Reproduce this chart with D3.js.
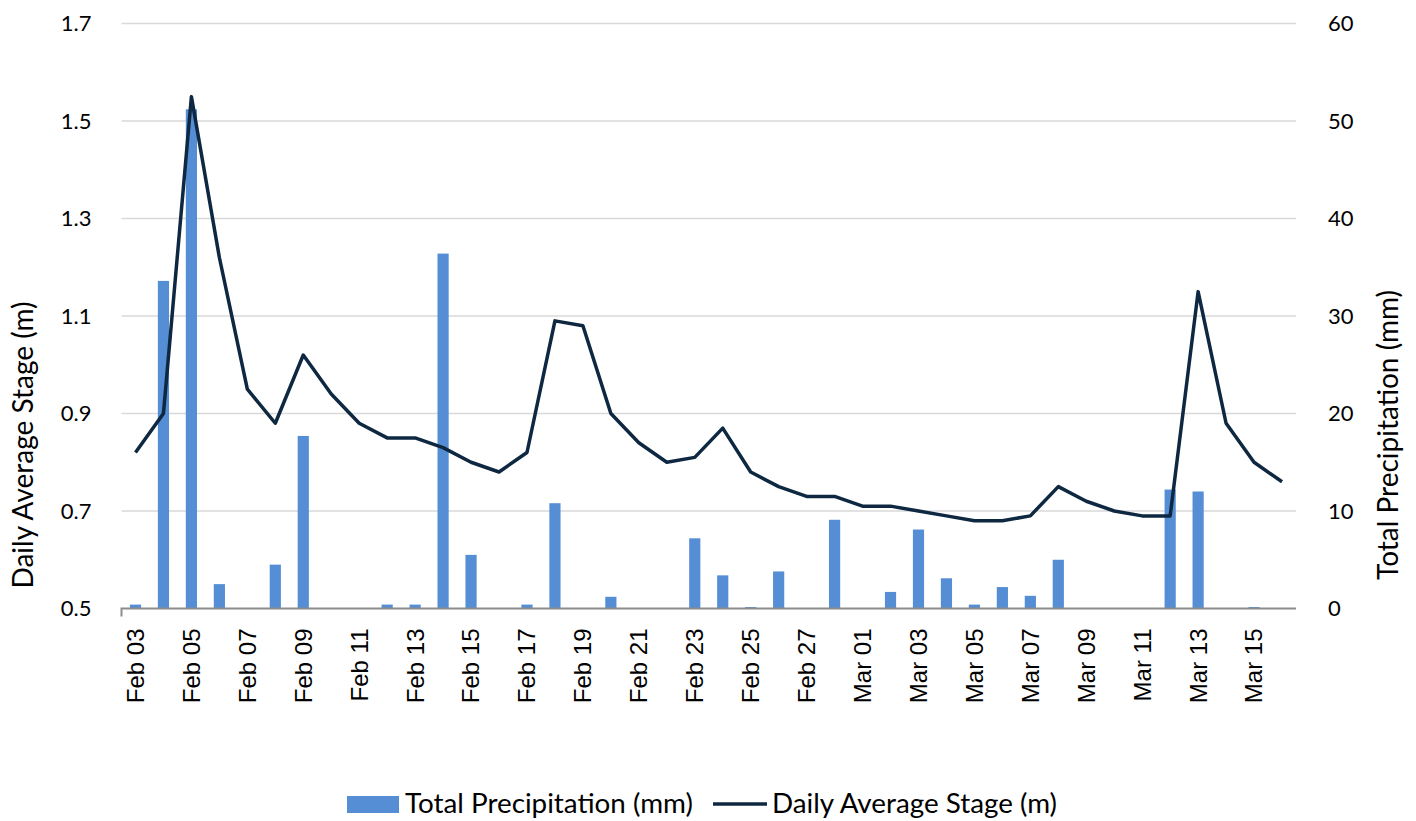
<!DOCTYPE html>
<html>
<head>
<meta charset="utf-8">
<script src="https://cdn.jsdelivr.net/npm/d3@7"></script>
<style>
  html, body { margin: 0; padding: 0; background: #fff; }
  svg { display: block; }
</style>
</head>
<body>
<svg id="chart" width="1416" height="821"></svg>
<script>
// Daily categories, Feb 03 – Mar 16
const days = [
  "Feb 03","Feb 04","Feb 05","Feb 06","Feb 07","Feb 08","Feb 09","Feb 10","Feb 11","Feb 12",
  "Feb 13","Feb 14","Feb 15","Feb 16","Feb 17","Feb 18","Feb 19","Feb 20","Feb 21","Feb 22",
  "Feb 23","Feb 24","Feb 25","Feb 26","Feb 27","Feb 28","Mar 01","Mar 02","Mar 03","Mar 04",
  "Mar 05","Mar 06","Mar 07","Mar 08","Mar 09","Mar 10","Mar 11","Mar 12","Mar 13","Mar 14",
  "Mar 15","Mar 16"
];

// Total precipitation (mm), right axis
const precipitation = [
  0.4, 33.6, 51.2, 2.5, 0, 4.5, 17.7, 0, 0, 0.4,
  0.4, 36.4, 5.5, 0, 0.4, 10.8, 0, 1.2, 0, 0,
  7.2, 3.4, 0.15, 3.8, 0, 9.1, 0, 1.7, 8.1, 3.1,
  0.4, 2.2, 1.3, 5.0, 0, 0, 0, 12.2, 12.0, 0,
  0.15, 0
];

// Daily average stage (m), left axis
const stage = [
  0.82, 0.90, 1.55, 1.22, 0.95, 0.88, 1.02, 0.94, 0.88, 0.85,
  0.85, 0.83, 0.80, 0.78, 0.82, 1.09, 1.08, 0.90, 0.84, 0.80,
  0.81, 0.87, 0.78, 0.75, 0.73, 0.73, 0.71, 0.71, 0.70, 0.69,
  0.68, 0.68, 0.69, 0.75, 0.72, 0.70, 0.69, 0.69, 1.15, 0.88,
  0.80, 0.76
];

const stageTicks = [0.5, 0.7, 0.9, 1.1, 1.3, 1.5, 1.7];
const precipTicks = [0, 10, 20, 30, 40, 50, 60];
const dayLabels = ["Feb 03","Feb 05","Feb 07","Feb 09","Feb 11","Feb 13","Feb 15","Feb 17","Feb 19",
  "Feb 21","Feb 23","Feb 25","Feb 27","Mar 01","Mar 03","Mar 05","Mar 07","Mar 09","Mar 11","Mar 13","Mar 15"];

const seriesNames = ["Total Precipitation (mm)", "Daily Average Stage (m)"];
const axisTitles = ["Daily Average Stage (m)", "Total Precipitation (mm)"];

const BAR = "#558ed5", LINE = "#0e2841", GRID = "#d9d9d9", AXIS = "#8c8c8c";
const UI_FONT = "Lato, 'Open Sans', sans-serif";
const DATE_FONT = "'Liberation Sans', Arial, sans-serif";

const plot = { left: 121.5, right: 1296, top: 23.5, bottom: 608.5 };
const svg = d3.select("#chart");

const x = d3.scaleBand().domain(days).range([plot.left, plot.right])
  .paddingInner(0.6).paddingOuter(0.3);
const yStage = d3.scaleLinear().domain([0.5, 1.7]).range([plot.bottom, plot.top]);
const yPrec = d3.scaleLinear().domain([0, 60]).range([plot.bottom, plot.top]);

// horizontal gridlines
svg.append("g").selectAll("line").data(stageTicks.slice(1)).join("line")
  .attr("x1", plot.left).attr("x2", plot.right)
  .attr("y1", d => yStage(d)).attr("y2", d => yStage(d))
  .attr("stroke", GRID).attr("stroke-width", 1.5);

// left axis labels
const leftAxis = svg.append("g").attr("transform", `translate(${plot.left},0)`)
  .call(d3.axisLeft(yStage).tickValues(stageTicks).tickFormat(d3.format(".1f")).tickSize(0).tickPadding(30));
leftAxis.select(".domain").remove();
leftAxis.selectAll("text").attr("font-family", UI_FONT).attr("font-size", 22).attr("fill", "#000");

// right axis labels
const rightAxis = svg.append("g").attr("transform", `translate(${plot.right},0)`)
  .call(d3.axisRight(yPrec).tickValues(precipTicks).tickSize(0).tickPadding(32));
rightAxis.select(".domain").remove();
rightAxis.selectAll("text").attr("font-family", UI_FONT).attr("font-size", 22).attr("fill", "#000");

// precipitation bars
svg.append("g").selectAll("rect").data(days).join("rect")
  .attr("x", d => x(d))
  .attr("width", x.bandwidth())
  .attr("y", (d, i) => yPrec(precipitation[i]))
  .attr("height", (d, i) => yPrec(0) - yPrec(precipitation[i]))
  .attr("fill", BAR);

// category axis
svg.append("path")
  .attr("d", `M${plot.left},${plot.bottom + 8}V${plot.bottom}H${plot.right}`)
  .attr("fill", "none").attr("stroke", AXIS).attr("stroke-width", 2);

const bottomAxis = svg.append("g").attr("transform", `translate(0,${plot.bottom})`)
  .call(d3.axisBottom(x).tickValues(dayLabels).tickSize(0).tickPadding(0));
bottomAxis.select(".domain").remove();
bottomAxis.selectAll("text")
  .attr("font-family", DATE_FONT).attr("font-size", 24).attr("fill", "#000")
  .attr("text-anchor", "end")
  .attr("transform", "rotate(-90)")
  .attr("x", -20).attr("y", 0).attr("dy", "0.35em");

// stage line
svg.append("path")
  .datum(stage)
  .attr("d", d3.line().x((d, i) => x(days[i]) + x.bandwidth() / 2).y(d => yStage(d)))
  .attr("fill", "none").attr("stroke", LINE).attr("stroke-width", 3.5)
  .attr("stroke-linejoin", "round");

// axis titles
svg.append("text")
  .attr("transform", "translate(33,445) rotate(-90)")
  .attr("text-anchor", "middle")
  .attr("font-family", UI_FONT).attr("font-size", 28)
  .text(axisTitles[0]);
svg.append("text")
  .attr("transform", "translate(1398,435) rotate(-90)")
  .attr("text-anchor", "middle")
  .attr("font-family", UI_FONT).attr("font-size", 28)
  .text(axisTitles[1]);

// legend
const legend = svg.append("g");
legend.append("rect").attr("x", 347).attr("y", 796).attr("width", 52).attr("height", 17).attr("fill", BAR);
legend.append("text").attr("x", 405).attr("y", 813)
  .attr("font-family", UI_FONT).attr("font-size", 27.8).text(seriesNames[0]);
legend.append("line").attr("x1", 713).attr("x2", 767).attr("y1", 804).attr("y2", 804)
  .attr("stroke", LINE).attr("stroke-width", 3.5);
legend.append("text").attr("x", 772).attr("y", 813)
  .attr("font-family", UI_FONT).attr("font-size", 27.8).text(seriesNames[1]);
</script>
</body>
</html>
